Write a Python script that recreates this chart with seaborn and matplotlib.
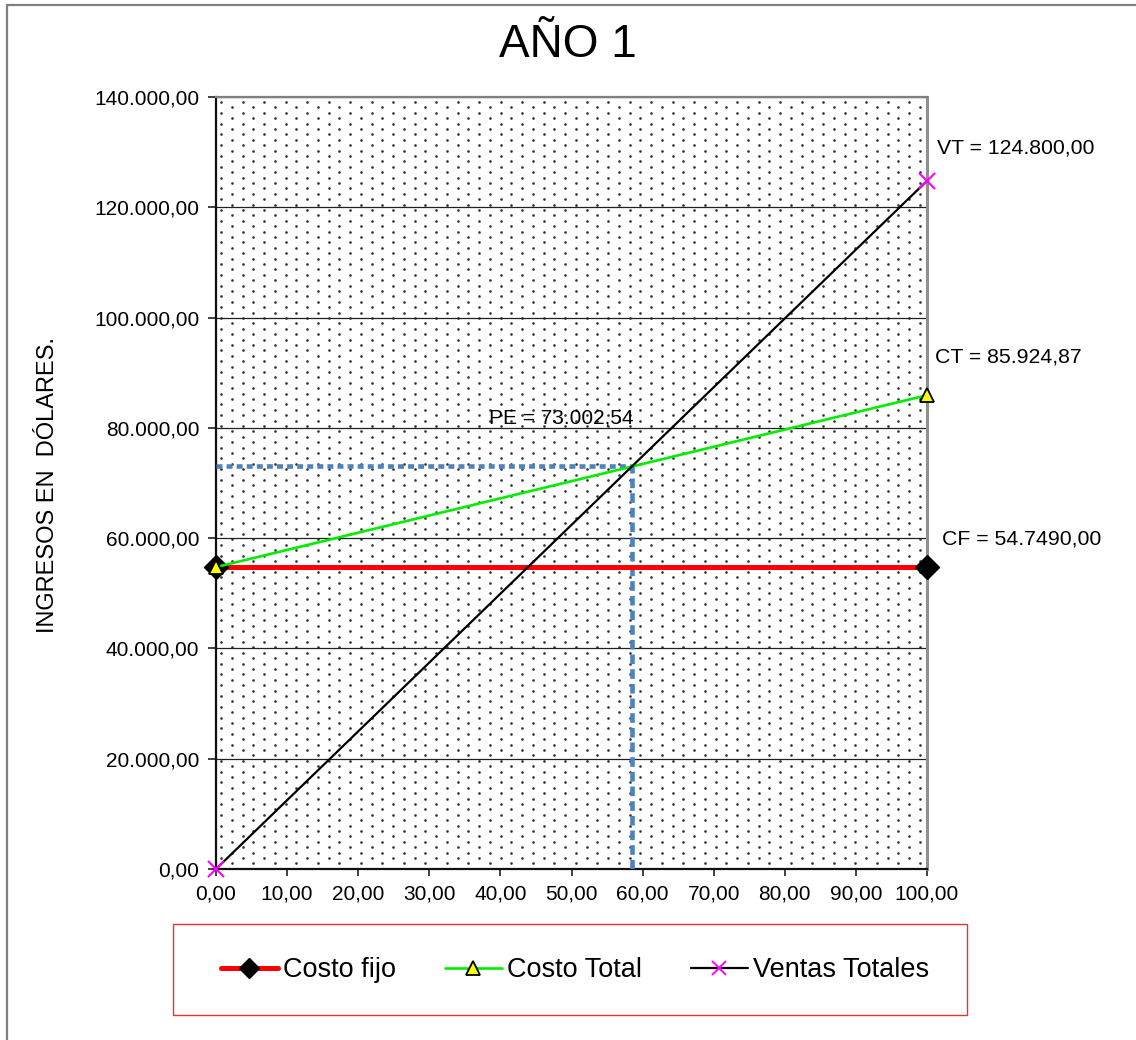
import numpy as np
import pandas as pd
import matplotlib
matplotlib.use("Agg")
import matplotlib.pyplot as plt
from matplotlib.lines import Line2D
from matplotlib.patches import Rectangle
from matplotlib.ticker import FuncFormatter, MultipleLocator
import seaborn as sns

# ---- data -------------------------------------------------------------
unidades = [0.0, 100.0]
costo_fijo = [54749.00, 54749.00]
costo_total = [54749.00, 85924.87]
ventas_totales = [0.0, 124800.00]
pe_unidades = 58.5
pe_valor = 73002.54

etiqueta_vt = "VT = 124.800,00"
etiqueta_ct = "CT = 85.924,87"
etiqueta_cf = "CF = 54.7490,00"
etiqueta_pe = "PE = 73.002,54"
series = ["Costo fijo", "Costo Total", "Ventas Totales"]

df = pd.DataFrame({
    "x": unidades * 3,
    "y": costo_fijo + costo_total + ventas_totales,
    "serie": [series[0]] * 2 + [series[1]] * 2 + [series[2]] * 2,
})

# ---- style ------------------------------------------------------------
sns.set_theme(style="white")
plt.rcParams["font.family"] = ["Liberation Sans", "DejaVu Sans"]
plt.rcParams["text.color"] = "black"
plt.rcParams["axes.labelcolor"] = "black"
plt.rcParams["xtick.color"] = "black"
plt.rcParams["ytick.color"] = "black"

W, H = 1136, 1040
fig = plt.figure(figsize=(W / 100, H / 100), dpi=100)
fig.patch.set_facecolor("white")

L, R, T, B = 216, 927, 97, 869
ax = fig.add_axes([L / W, 1 - B / H, (R - L) / W, (B - T) / H])
ax.set_facecolor("white")

# stippled plot area
nx = int((R - L) / 10.75) + 1
ny = int((B - T) / 10.8) + 1
px, py = [], []
for i in range(nx):
    xf = (5 + i * 10.75) / (R - L)
    off = 0.0 if i % 2 == 0 else 5.4
    for j in range(ny + 1):
        yf = 1 - (5 + off + j * 10.8) / (B - T)
        if 0 < yf < 1 and xf < 1:
            px.append(xf)
            py.append(yf)
ax.scatter(px, py, s=3.6, color="#333333", linewidths=0,
           transform=ax.transAxes, zorder=0)

# series
estilos = {
    "Costo fijo": dict(color="#ff0000", lw=3.6, marker="D", ms=12.5,
                       mfc="black", mec="black", mew=1.0),
    "Costo Total": dict(color="#00ee00", lw=1.9, marker="^", ms=9.5,
                        mfc="#ffff00", mec="black", mew=1.3),
    "Ventas Totales": dict(color="black", lw=1.6, marker="x", ms=11,
                           mfc="#ff00ff", mec="#ff00ff", mew=1.5),
}
for k, nombre in enumerate(series):
    st = estilos[nombre]
    sub = df[df["serie"] == nombre]
    sns.lineplot(data=sub, x="x", y="y", ax=ax, color=st["color"],
                 linewidth=st["lw"], marker=st["marker"],
                 markersize=st["ms"], markerfacecolor=st["mfc"],
                 markeredgecolor=st["mec"], markeredgewidth=st["mew"],
                 legend=False, clip_on=False, zorder=4 + k)

# break-even guides
ax.plot([unidades[0], pe_unidades], [pe_valor, pe_valor], color="#4f81bd",
        lw=3.3, linestyle=(0, (1.3, 0.9)), zorder=3)
ax.plot([pe_unidades, pe_unidades], [0, pe_valor], color="#4f81bd",
        lw=3.3, linestyle=(0, (2.1, 1.1)), zorder=3)

# value labels
fs_lab = 15.3
ax.annotate(etiqueta_vt, (unidades[1], ventas_totales[1]),
            xytext=(10, 33), textcoords="offset pixels",
            ha="left", va="center", fontsize=fs_lab, annotation_clip=False)
ax.annotate(etiqueta_ct, (unidades[1], costo_total[1]),
            xytext=(8, 38), textcoords="offset pixels",
            ha="left", va="center", fontsize=fs_lab, annotation_clip=False)
ax.annotate(etiqueta_cf, (unidades[1], costo_fijo[1]),
            xytext=(15, 28), textcoords="offset pixels",
            ha="left", va="center", fontsize=fs_lab, annotation_clip=False)
ax.annotate(etiqueta_pe, (pe_unidades, pe_valor),
            xytext=(-71, 48), textcoords="offset pixels",
            ha="center", va="center", fontsize=15, zorder=8)

# axes, ticks, grid
ax.set_xlim(0, 100)
ax.set_ylim(0, 140000)
ax.xaxis.set_major_locator(MultipleLocator(10))
ax.yaxis.set_major_locator(MultipleLocator(20000))


def es_fmt(v, _pos=None):
    s = f"{v:,.2f}"
    return s.replace(",", "X").replace(".", ",").replace("X", ".")


ax.xaxis.set_major_formatter(FuncFormatter(es_fmt))
ax.yaxis.set_major_formatter(FuncFormatter(es_fmt))
ax.set_xlabel("")
ax.set_ylabel("")
ax.grid(axis="y", color="#202020", lw=0.9, zorder=1)
ax.grid(axis="x", visible=False)
ax.set_axisbelow(True)
ax.tick_params(axis="y", direction="out", length=6, width=1.2,
               color="#202020", labelsize=15, pad=6, left=True,
               labelcolor="black")
ax.tick_params(axis="x", direction="out", length=5, width=1.2,
               color="#202020", labelsize=15, pad=6, bottom=True,
               labelcolor="black")

for side, col, lw in [("left", "#101010", 1.6), ("bottom", "#101010", 1.6),
                      ("top", "#808080", 1.6), ("right", "#909090", 2.2)]:
    ax.spines[side].set_visible(True)
    ax.spines[side].set_color(col)
    ax.spines[side].set_linewidth(lw)

# titles
fig.text(568 / W, 1 - 45 / H, "AÑO 1", ha="center", va="center",
         fontsize=33, color="black")
fig.text(48 / W, 1 - 485 / H, "INGRESOS EN  DÓLARES.", rotation=90,
         ha="center", va="center", fontsize=17, color="black")

# outer frame (left and top edges visible)
fig.patches.append(Rectangle((7 / W, -0.2), 1.5, 0.2 + 1 - 5 / H,
                             transform=fig.transFigure, fill=False,
                             edgecolor="#808080", lw=1.6))

# legend box
fig.patches.append(Rectangle((173 / W, 1 - 1015 / H), (967 - 173) / W,
                             (1015 - 924) / H, transform=fig.transFigure,
                             facecolor="white", edgecolor="#ee3030", lw=1.0))
handles = [
    Line2D([], [], color="#ff0000", lw=3.6, marker="D", ms=10.5,
           mfc="black", mec="black"),
    Line2D([], [], color="#00ee00", lw=1.9, marker="^", ms=10,
           mfc="#ffff00", mec="black", mew=1.3),
    Line2D([], [], color="black", lw=1.6, marker="x", ms=10,
           mec="#ff00ff", mew=1.4),
]
fig.legend(handles, series, loc="center", bbox_to_anchor=(575 / W, 1 - 970 / H),
           ncol=3, frameon=False, fontsize=19.5, handlelength=2.1,
           handletextpad=0.2, columnspacing=1.8, borderpad=0)

fig.savefig("out.png", dpi=100)
